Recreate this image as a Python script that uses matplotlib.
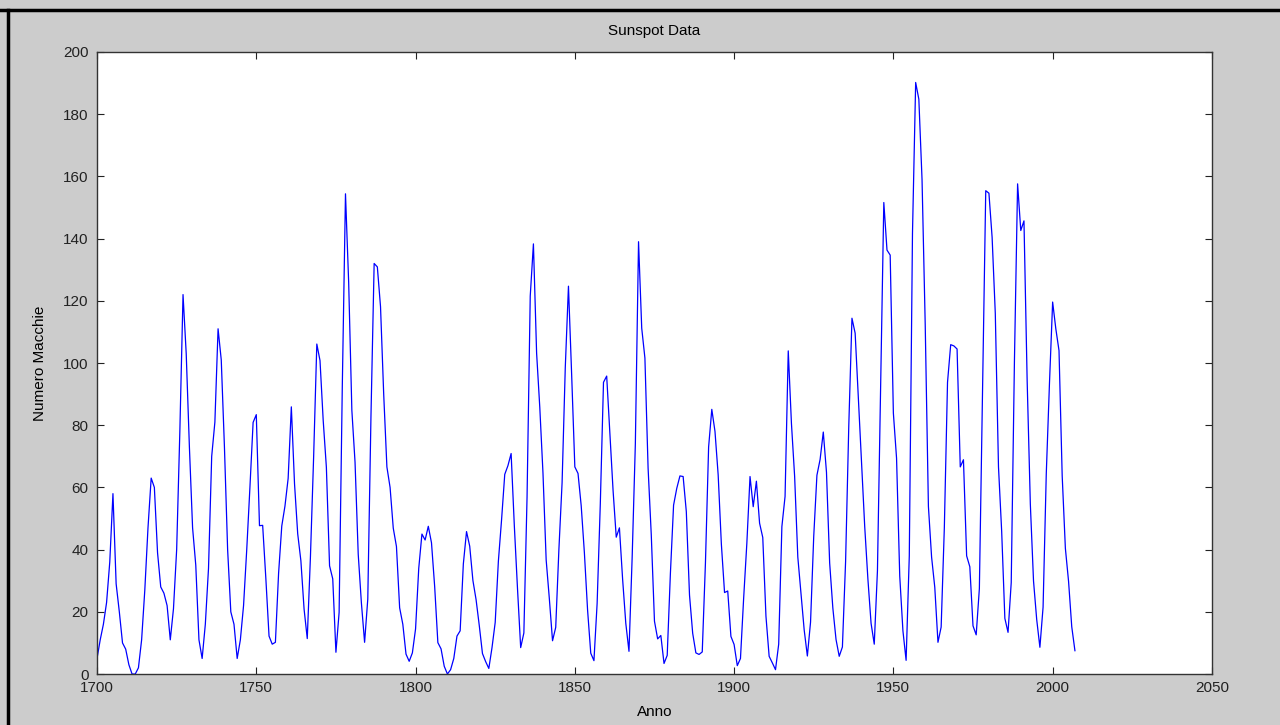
import matplotlib
matplotlib.use('Agg')
import matplotlib.pyplot as plt
from matplotlib.lines import Line2D
import numpy as np

# yearly sunspot numbers, 1700-2007
years = np.arange(1700, 2008)
spots = [
    5, 11, 16, 23, 36, 58, 29, 20, 10, 8,
    3, 0, 0, 2, 11, 27, 47, 63, 60, 39,
    28, 26, 22, 11, 21, 40, 78, 122, 103, 73,
    47, 35, 11, 5, 16, 34, 70, 81, 111, 101,
    73, 40, 20, 16, 5, 11, 22, 40, 60, 80.9,
    83.4, 47.7, 47.8, 30.7, 12.2, 9.6, 10.2, 32.4, 47.6, 54.0,
    62.9, 85.9, 61.2, 45.1, 36.4, 20.9, 11.4, 37.8, 69.8, 106.1,
    100.8, 81.6, 66.5, 34.8, 30.6, 7.0, 19.8, 92.5, 154.4, 125.9,
    84.8, 68.1, 38.5, 22.8, 10.2, 24.1, 82.9, 132.0, 130.9, 118.1,
    89.9, 66.6, 60.0, 46.9, 41.0, 21.3, 16.0, 6.4, 4.1, 6.8,
    14.5, 34.0, 45.0, 43.1, 47.5, 42.2, 28.1, 10.1, 8.1, 2.5,
    0.0, 1.4, 5.0, 12.2, 13.9, 35.4, 45.8, 41.1, 30.1, 23.9,
    15.6, 6.6, 4.0, 1.8, 8.5, 16.6, 36.3, 49.6, 64.2, 67.0,
    70.9, 47.8, 27.5, 8.5, 13.2, 56.9, 121.5, 138.3, 103.2, 85.7,
    64.6, 36.7, 24.2, 10.7, 15.0, 40.1, 61.5, 98.5, 124.7, 96.3,
    66.6, 64.5, 54.1, 39.0, 20.6, 6.7, 4.3, 22.7, 54.8, 93.8,
    95.8, 77.2, 59.1, 44.0, 47.0, 30.5, 16.3, 7.3, 37.6, 74.0,
    139.0, 111.2, 101.6, 66.2, 44.7, 17.0, 11.3, 12.4, 3.4, 6.0,
    32.3, 54.3, 59.7, 63.7, 63.5, 52.2, 25.4, 13.1, 6.8, 6.3,
    7.1, 35.6, 73.0, 85.1, 78.0, 64.0, 41.8, 26.2, 26.7, 12.1,
    9.5, 2.7, 5.0, 24.4, 42.0, 63.5, 53.8, 62.0, 48.5, 43.9,
    18.6, 5.7, 3.6, 1.4, 9.6, 47.4, 57.1, 103.9, 80.6, 63.6,
    37.6, 26.1, 14.2, 5.8, 16.7, 44.3, 63.9, 69.0, 77.8, 64.9,
    35.7, 21.2, 11.1, 5.7, 8.7, 36.1, 79.7, 114.4, 109.6, 88.8,
    67.8, 47.5, 30.6, 16.3, 9.6, 33.2, 92.6, 151.6, 136.3, 134.7,
    83.9, 69.4, 31.5, 13.9, 4.4, 38.0, 141.7, 190.2, 184.8, 159.0,
    112.3, 53.9, 37.6, 27.9, 10.2, 15.1, 47.0, 93.8, 105.9, 105.5,
    104.5, 66.6, 68.9, 38.0, 34.5, 15.5, 12.6, 27.5, 92.5, 155.4,
    154.6, 140.4, 115.9, 66.6, 45.9, 17.9, 13.4, 29.4, 100.2, 157.6,
    142.6, 145.7, 94.3, 54.6, 29.9, 17.5, 8.6, 21.5, 64.3, 93.3,
    119.6, 111.0, 104.0, 63.7, 40.4, 29.8, 15.2, 7.5,
]
xticks = [1700, 1750, 1800, 1850, 1900, 1950, 2000, 2050]
yticks = [0, 20, 40, 60, 80, 100, 120, 140, 160, 180, 200]

plt.rcParams['font.family'] = ['Liberation Sans', 'DejaVu Sans']

fig = plt.figure(figsize=(12.8, 7.25), dpi=100, facecolor='#cccccc')
ax = fig.add_axes([0.0758, 0.0703, 0.871, 0.858])
ax.plot(years, spots, color='#0000ff', linewidth=0.9)

ax.set_xlim(1700, 2050)
ax.set_ylim(0, 200)
ax.set_xticks(xticks)
ax.set_yticks(yticks)
ax.tick_params(direction='in', top=True, right=True, length=5, width=0.8,
               labelsize=11, colors='#222222')
ax.tick_params(axis='x', pad=5)
ax.tick_params(axis='y', pad=6)
for s in ax.spines.values():
    s.set_color('#333333')
    s.set_linewidth(1.0)

ax.set_title('Sunspot Data', fontsize=11, pad=12)
ax.set_xlabel('Anno', fontsize=11, labelpad=7)
ax.set_ylabel('Numero Macchie', fontsize=11, labelpad=12)

# screenshot frame on the top and left edges
fig.add_artist(Line2D([0, 1], [1 - 10 / 725, 1 - 10 / 725], color='black', linewidth=2.5))
fig.add_artist(Line2D([8 / 1280, 8 / 1280], [0, 1 - 10 / 725], color='black', linewidth=2.5))

fig.savefig('out.png', dpi=100, facecolor=fig.get_facecolor())
